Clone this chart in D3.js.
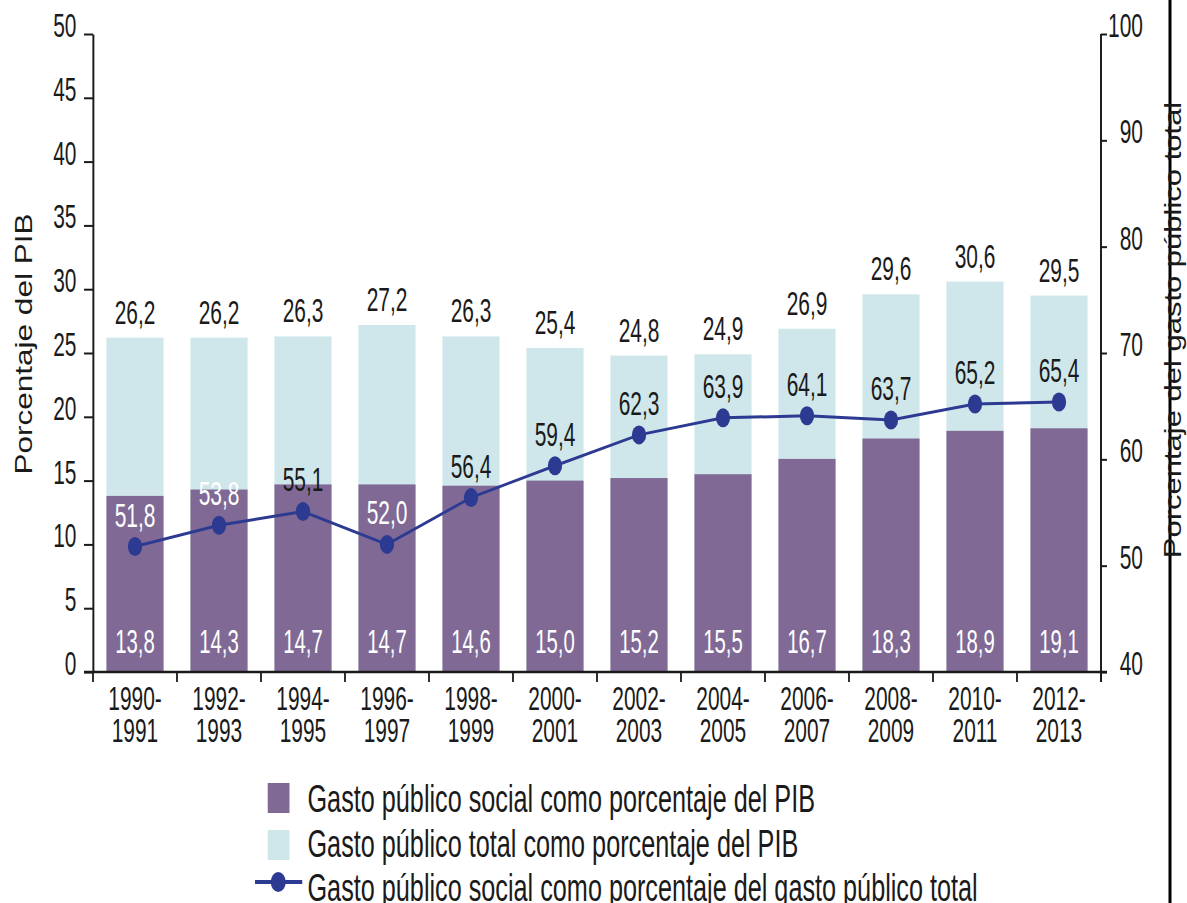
<!DOCTYPE html>
<html>
<head>
<meta charset="utf-8">
<script src="https://cdn.jsdelivr.net/npm/d3@7"></script>
<style>
  body { margin: 0; background: #fff; }
  svg { display: block; }
</style>
</head>
<body>
<div id="chart"></div>
<script>
// data
const periods = [
  ["1990-", "1991"], ["1992-", "1993"], ["1994-", "1995"], ["1996-", "1997"],
  ["1998-", "1999"], ["2000-", "2001"], ["2002-", "2003"], ["2004-", "2005"],
  ["2006-", "2007"], ["2008-", "2009"], ["2010-", "2011"], ["2012-", "2013"]
];
const totalPib = [26.2, 26.2, 26.3, 27.2, 26.3, 25.4, 24.8, 24.9, 26.9, 29.6, 30.6, 29.5];
const socialPib = [13.8, 14.3, 14.7, 14.7, 14.6, 15.0, 15.2, 15.5, 16.7, 18.3, 18.9, 19.1];
const socialShare = [51.8, 53.8, 55.1, 52.0, 56.4, 59.4, 62.3, 63.9, 64.1, 63.7, 65.2, 65.4];
const leftTicks = [0, 5, 10, 15, 20, 25, 30, 35, 40, 45, 50];
const rightTicks = [40, 50, 60, 70, 80, 90, 100];
const legendLabels = [
  "Gasto público social como porcentaje del PIB",
  "Gasto público total como porcentaje del PIB",
  "Gasto público social como porcentaje del gasto público total"
];

// the original is squeezed sideways, so draw wide and squash with the viewBox
const SX = 0.75;
const W = 1187, H = 903;
const LW = W / SX;
const NARROW = 0.82;

const PURPLE = "#806a95";
const LIGHT = "#cfe7ea";
const NAVY = "#2c3a92";
const INK = "#1a1a1a";
const FONT = "'Liberation Sans', Arial, sans-serif";

const fmt = v => v.toFixed(1).replace(".", ",");

const svg = d3.select("#chart").append("svg")
  .attr("width", W)
  .attr("height", H)
  .attr("viewBox", "0 0 " + LW + " " + H)
  .attr("preserveAspectRatio", "none")
  .style("font-family", FONT);

const keys = periods.map(p => p.join(""));

const x = d3.scaleBand()
  .domain(keys)
  .range([124, 1468])
  .paddingInner(0.32)
  .paddingOuter(0.16);

const yL = d3.scaleLinear().domain([0, 50]).range([672, 34]);
const yR = d3.scaleLinear().domain([40, 100]).range([672, 34]);

// narrow text: place with translate, squeeze with scale
function narrowText(g, px, py, str, size, anchor, color, k) {
  return g.append("text")
    .attr("transform", "translate(" + px + "," + py + ") scale(" + (k || NARROW) + ",1)")
    .attr("text-anchor", anchor)
    .style("font-size", size + "px")
    .attr("fill", color)
    .text(str);
}

// total bars (light)
svg.append("g").selectAll("rect")
  .data(totalPib)
  .join("rect")
  .attr("x", (d, i) => x(keys[i]))
  .attr("y", d => yL(d))
  .attr("width", x.bandwidth())
  .attr("height", d => yL(0) - yL(d))
  .attr("fill", LIGHT);

// social bars (purple)
svg.append("g").selectAll("rect")
  .data(socialPib)
  .join("rect")
  .attr("x", (d, i) => x(keys[i]))
  .attr("y", d => yL(d))
  .attr("width", x.bandwidth())
  .attr("height", d => yL(0) - yL(d))
  .attr("fill", PURPLE);

// left axis
const gL = svg.append("g")
  .attr("transform", "translate(124,0)")
  .call(d3.axisLeft(yL).tickValues(leftTicks).tickSize(12).tickSizeOuter(0));
gL.select(".domain").attr("stroke", INK).attr("stroke-width", 2.6);
gL.selectAll(".tick line").attr("stroke", INK).attr("stroke-width", 2);
gL.selectAll(".tick text").remove();
leftTicks.forEach(t => narrowText(svg, 102, yL(t) + 3, t, 34, "end", INK));

// right axis
const gR = svg.append("g")
  .attr("transform", "translate(1468,0)")
  .call(d3.axisRight(yR).tickValues(rightTicks).tickSize(8).tickSizeOuter(0));
gR.select(".domain").attr("stroke", INK).attr("stroke-width", 2.6)
  .attr("d", "M0," + yR(100) + "V" + (yR(40) + 10));
gR.selectAll(".tick line").attr("stroke", INK).attr("stroke-width", 2);
gR.selectAll(".tick text").remove();
rightTicks.forEach(t => narrowText(svg, 1524, yR(t) + 3, t, 34, "end", INK));

// bottom axis with ticks on the band edges
const gap = (x.step() - x.bandwidth()) / 2;
const edges = keys.map(k => x(k) - gap).concat([x(keys[keys.length - 1]) + x.bandwidth() + gap]);
const gB = svg.append("g");
gB.append("line")
  .attr("x1", 112).attr("x2", 1476)
  .attr("y1", yL(0)).attr("y2", yL(0))
  .attr("stroke", INK).attr("stroke-width", 2.6);
gB.selectAll("line.tk")
  .data(edges)
  .join("line")
  .attr("class", "tk")
  .attr("x1", d => d).attr("x2", d => d)
  .attr("y1", yL(0)).attr("y2", yL(0) + 10)
  .attr("stroke", INK).attr("stroke-width", 2.4);
periods.forEach((p, i) => {
  const cx = x(keys[i]) + x.bandwidth() / 2;
  const t = narrowText(gB, cx, 710, null, 34, "middle", INK);
  t.append("tspan").attr("x", 0).attr("y", 0).text(p[0]);
  t.append("tspan").attr("x", 0).attr("y", 32).text(p[1]);
});

// line: social share of total spending
const line = d3.line()
  .x((d, i) => x(keys[i]) + x.bandwidth() / 2)
  .y(d => yR(d));
svg.append("path")
  .datum(socialShare)
  .attr("d", line)
  .attr("fill", "none")
  .attr("stroke", NAVY)
  .attr("stroke-width", 3);
svg.append("g").selectAll("circle")
  .data(socialShare)
  .join("circle")
  .attr("cx", (d, i) => x(keys[i]) + x.bandwidth() / 2)
  .attr("cy", d => yR(d))
  .attr("r", 9.5)
  .attr("fill", NAVY);

// value labels
const gV = svg.append("g");
totalPib.forEach((v, i) => {
  const cx = x(keys[i]) + x.bandwidth() / 2;
  narrowText(gV, cx, yL(v) - 14, fmt(v), 34, "middle", INK);
});
socialPib.forEach((v, i) => {
  const cx = x(keys[i]) + x.bandwidth() / 2;
  narrowText(gV, cx, yL(0) - 19, fmt(v), 33, "middle", "#fff");
});
socialShare.forEach((v, i) => {
  const cx = x(keys[i]) + x.bandwidth() / 2;
  const base = yR(v) - 20;
  const inside = base - 12 > yL(socialPib[i]);
  narrowText(gV, cx, base, fmt(v), 34, "middle", inside ? "#fff" : INK);
});

// axis titles
svg.append("text")
  .attr("transform", "translate(42,344) rotate(-90)")
  .attr("text-anchor", "middle")
  .style("font-size", "31.5px")
  .attr("fill", INK)
  .text("Porcentaje del PIB");

svg.append("line")
  .attr("x1", 1560).attr("x2", 1560)
  .attr("y1", 0).attr("y2", H)
  .attr("stroke", "#000").attr("stroke-width", 4);

svg.append("text")
  .attr("transform", "translate(1575,330) rotate(-90)")
  .attr("text-anchor", "middle")
  .style("font-size", "31px")
  .attr("fill", INK)
  .text("Porcentaje del gasto público total");

// legend
const gLeg = svg.append("g");
gLeg.append("rect").attr("x", 357).attr("y", 783).attr("width", 29).attr("height", 30).attr("fill", PURPLE);
gLeg.append("rect").attr("x", 357).attr("y", 830).attr("width", 29).attr("height", 30).attr("fill", LIGHT);
gLeg.append("line").attr("x1", 340).attr("x2", 403).attr("y1", 882).attr("y2", 882)
  .attr("stroke", NAVY).attr("stroke-width", 4);
gLeg.append("circle").attr("cx", 371).attr("cy", 882).attr("r", 10).attr("fill", NAVY);
legendLabels.forEach((s, i) => {
  narrowText(gLeg, 410, 812 + i * 44.5, s, 38, "start", INK, 0.885);
});
</script>
</body>
</html>
